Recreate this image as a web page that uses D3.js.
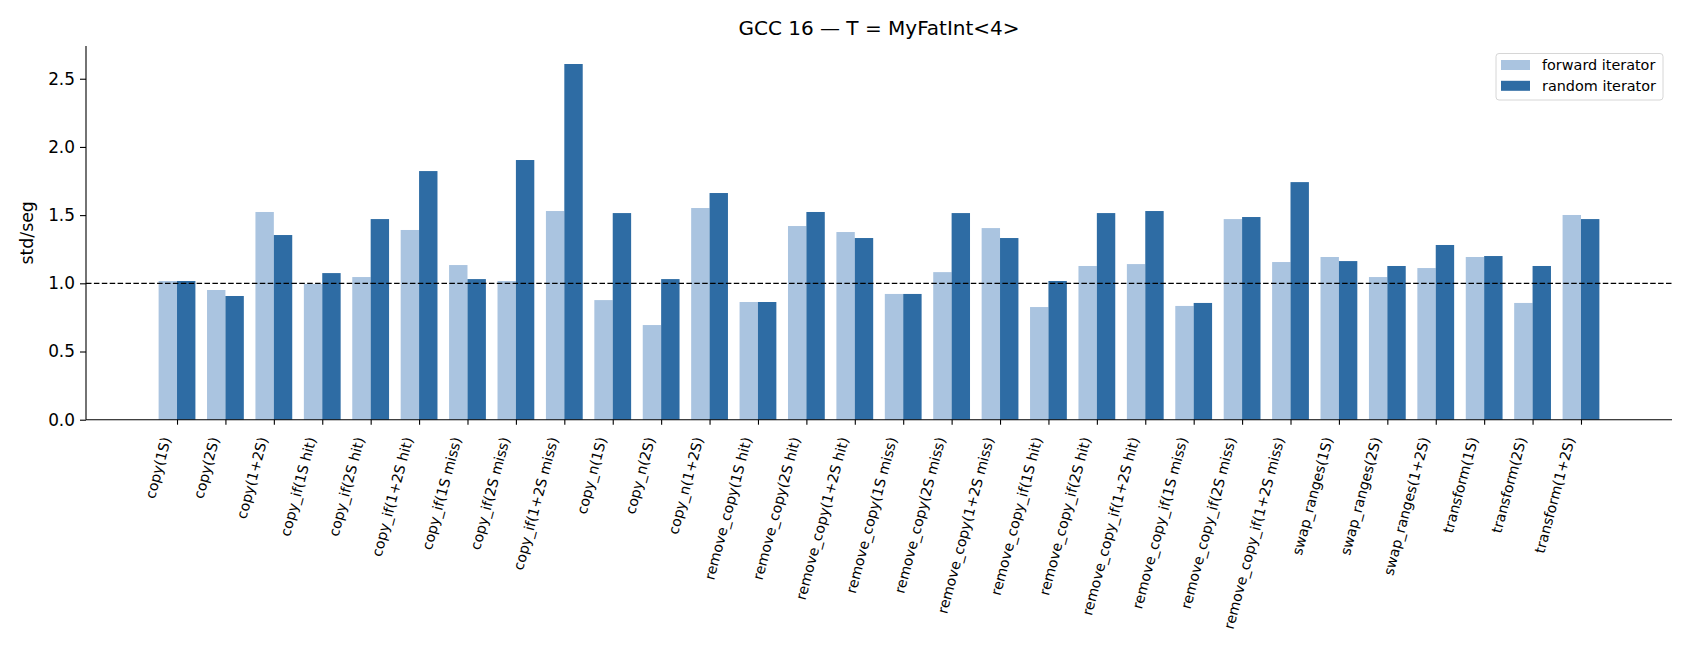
<!DOCTYPE html>
<html>
<head>
<meta charset="utf-8">
<script src="https://cdn.jsdelivr.net/npm/d3@7"></script>
<style>
  html, body { margin: 0; padding: 0; background: #fff; }
  svg { display: block; font-family: "DejaVu Sans", sans-serif; }
</style>
</head>
<body>
<svg id="chart" width="1690" height="650"></svg>
<script>
const categories = [
  "copy(1S)", "copy(2S)", "copy(1+2S)",
  "copy_if(1S hit)", "copy_if(2S hit)", "copy_if(1+2S hit)",
  "copy_if(1S miss)", "copy_if(2S miss)", "copy_if(1+2S miss)",
  "copy_n(1S)", "copy_n(2S)", "copy_n(1+2S)",
  "remove_copy(1S hit)", "remove_copy(2S hit)", "remove_copy(1+2S hit)",
  "remove_copy(1S miss)", "remove_copy(2S miss)", "remove_copy(1+2S miss)",
  "remove_copy_if(1S hit)", "remove_copy_if(2S hit)", "remove_copy_if(1+2S hit)",
  "remove_copy_if(1S miss)", "remove_copy_if(2S miss)", "remove_copy_if(1+2S miss)",
  "swap_ranges(1S)", "swap_ranges(2S)", "swap_ranges(1+2S)",
  "transform(1S)", "transform(2S)", "transform(1+2S)"
];
const forwardValues = [
  1.017, 0.951, 1.523, 0.995, 1.046, 1.391, 1.134, 1.017, 1.530,
  0.877, 0.694, 1.552, 0.863, 1.420, 1.376, 0.922, 1.082, 1.405,
  0.826, 1.127, 1.141, 0.834, 1.471, 1.156, 1.193, 1.046, 1.112,
  1.193, 0.856, 1.501
];
const randomValues = [
  1.017, 0.907, 1.354, 1.075, 1.471, 1.823, 1.031, 1.904, 2.608,
  1.515, 1.031, 1.662, 0.863, 1.523, 1.332, 0.922, 1.515, 1.332,
  1.017, 1.515, 1.530, 0.856, 1.486, 1.742, 1.163, 1.127, 1.281,
  1.200, 1.127, 1.471
];
const yTicks = [0.0, 0.5, 1.0, 1.5, 2.0, 2.5];
const seriesNames = ["forward iterator", "random iterator"];
const seriesColors = ["#aac4e0", "#2e6ca4"];
const titleText = "GCC 16 \u2014 T = MyFatInt<4>";
const yLabel = "std/seg";
const refLine = 1.0;

const svg = d3.select("#chart");
const L = 86, R = 1672, T = 46, B = 419.7;
const barW = 0.38;

const x = d3.scaleLinear().domain([-1.88, categories.length - 1 + 1.88]).range([L, R]);
const y = d3.scaleLinear().domain([0, 2.74]).range([B, T]);

// bars
const series = [forwardValues, randomValues];
series.forEach((vals, s) => {
  svg.append("g").selectAll("rect").data(vals).join("rect")
    .attr("x", (d, i) => x(i + (s === 0 ? -barW : 0)))
    .attr("width", (d, i) => x(i + barW) - x(i))
    .attr("y", d => y(d))
    .attr("height", d => y(0) - y(d))
    .attr("fill", seriesColors[s]);
});

// reference line
svg.append("line")
  .attr("x1", L).attr("x2", R)
  .attr("y1", y(refLine)).attr("y2", y(refLine))
  .attr("stroke", "#000").attr("stroke-width", 1.3)
  .attr("stroke-dasharray", "5.5,2.4");

// y axis
const yAxis = d3.axisLeft(y).tickValues(yTicks).tickFormat(d3.format(".1f")).tickSize(6).tickPadding(5);
const gy = svg.append("g").attr("transform", `translate(${L},0)`).call(yAxis);
gy.select(".domain").attr("d", `M0,${B}V${T}`).attr("stroke-width", 1.1);
gy.selectAll(".tick line").attr("stroke-width", 1.1);
gy.selectAll(".tick text").attr("font-size", 16.9).attr("font-family", "DejaVu Sans").attr("fill", "#000");

// x axis
const xAxis = d3.axisBottom(x).tickValues(d3.range(categories.length)).tickFormat("").tickSize(5);
const gx = svg.append("g").attr("transform", `translate(0,${B})`).call(xAxis);
gx.select(".domain").attr("d", `M${L},0H${R}`).attr("stroke-width", 1.1);
gx.selectAll(".tick line").attr("stroke-width", 1.1);

// x tick labels rotated
svg.append("g").selectAll("text").data(categories).join("text")
  .attr("transform", (d, i) => `translate(${x(i) - 6},${B + 19}) rotate(-75)`)
  .attr("text-anchor", "end")
  .attr("font-size", 14.2)
  .attr("fill", "#000")
  .text(d => d);

// y label
svg.append("text")
  .attr("transform", `translate(33,${(T + B) / 2}) rotate(-90)`)
  .attr("text-anchor", "middle")
  .attr("font-size", 17.3)
  .attr("fill", "#000")
  .text(yLabel);

// title
svg.append("text")
  .attr("x", (L + R) / 2).attr("y", 35)
  .attr("text-anchor", "middle")
  .attr("font-size", 20)
  .attr("fill", "#000")
  .text(titleText);

// legend
const lg = svg.append("g");
lg.append("rect")
  .attr("x", 1496).attr("y", 53.5).attr("width", 167).attr("height", 46.5)
  .attr("rx", 3).attr("fill", "#fff").attr("fill-opacity", 0.8)
  .attr("stroke", "#d6d6d6").attr("stroke-width", 1);
seriesNames.forEach((name, s) => {
  lg.append("rect")
    .attr("x", 1501).attr("y", 60 + s * 20.8).attr("width", 29).attr("height", 10)
    .attr("fill", seriesColors[s]);
  lg.append("text")
    .attr("x", 1542).attr("y", 70 + s * 20.8)
    .attr("font-size", 14.4).attr("fill", "#000")
    .text(name);
});
</script>
</body>
</html>
